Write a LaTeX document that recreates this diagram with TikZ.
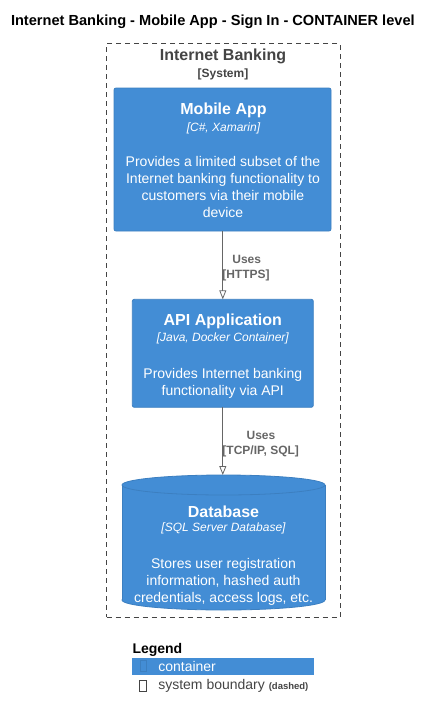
\documentclass[tikz,border=0pt]{standalone}
\usepackage{fontspec}
\setmainfont{Liberation Sans}
\usetikzlibrary{arrows.meta}

\definecolor{contbg}{HTML}{438DD5}
\definecolor{contbd}{HTML}{3C7FC0}
\definecolor{relgray}{HTML}{666666}
\definecolor{bndgray}{HTML}{444444}
\newcommand{\fsz}[2]{\fontsize{#1}{#2}\selectfont}

\begin{document}
\begin{tikzpicture}[x=1pt,y=-1pt]
\tikzset{ >={Triangle[open,length=9pt,width=7pt]}, inner sep=0pt, outer sep=0pt,
  contbox/.style={fill=contbg, draw=contbd, line width=0.8pt, rounded corners=2pt},
  cttl/.style={anchor=base, text=white, font=\bfseries\fsz{16}{19}},
  ctech/.style={anchor=base, text=white, font=\itshape\fsz{12}{14}},
  cdesc/.style={anchor=base, text=white, font=\fsz{14}{17}},
  rel/.style={->, draw=relgray, line width=0.8pt},
  rellbl/.style={anchor=base, text=relgray, font=\bfseries\fsz{12}{14}},
}

\useasboundingbox (0,0) rectangle (430,718);

%\draw [lightgray, dashed](0,0) grid[step=50] (430,718);

% Title
\node [anchor=base west, font=\bfseries\fsz{14.6}{17}] (Title) at (11,25) {Internet Banking - Mobile App - Sign In - CONTAINER level};

%%% Blocos

% System boundary
\node [draw=bndgray, line width=0.8pt, dash pattern=on 5pt off 4pt, minimum width=233.5pt, minimum height=573.5pt] (Bnd) at (223.25,330.25) { };
\node [anchor=base, text=bndgray, font=\bfseries\fsz{16}{19}] (BndT) at (223,60) {Internet Banking};
\node [anchor=base, text=bndgray, font=\bfseries\fsz{12}{14}] (BndS) at (223,77) {[System]};

% Mobile App
\node [contbox, minimum width=217pt, minimum height=143pt] (MobApp) at (222.5,159.5) { };
\node [cttl]  (MobAppT) at (223.5,114) {Mobile App};
\node [ctech] (MobAppK) at (223.5,131) {[C\#, Xamarin]};
\node [cdesc] (MobAppD1) at (223,166) {Provides a limited subset of the};
\node [cdesc] (MobAppD2) at (223,183) {Internet banking functionality to};
\node [cdesc] (MobAppD3) at (223,200) {customers via their mobile};
\node [cdesc] (MobAppD4) at (223,217) {device};

% API Application
\node [contbox, minimum width=181pt, minimum height=108pt] (ApiApp) at (222.8,353.3) { };
\node [cttl]  (ApiAppT) at (222.8,325) {API Application};
\node [ctech] (ApiAppK) at (222.8,341) {[Java, Docker Container]};
\node [cdesc] (ApiAppD1) at (222.8,378) {Provides Internet banking};
\node [cdesc] (ApiAppD2) at (222.8,395) {functionality via API};

% Database
\node [minimum width=203pt, minimum height=135pt] (DB) at (223.5,542.5) { };
\filldraw [fill=contbg, draw=contbd, line width=0.8pt] (223.5,600) ellipse (101.5 and 10);
\fill [contbg] (122,485) rectangle (325,600);
\draw [contbd, line width=0.8pt] (122,485) -- (122,600) (325,485) -- (325,600);
\filldraw [fill=contbg, draw=contbd, line width=0.8pt] (223.5,485) ellipse (101.5 and 10);
\node [cttl]  (DBT) at (223.5,517) {Database};
\node [ctech] (DBK) at (223.5,531) {[SQL Server Database]};
\node [cdesc] (DBD1) at (223.5,568) {Stores user registration};
\node [cdesc] (DBD2) at (223.5,585) {information, hashed auth};
\node [cdesc] (DBD3) at (223.5,602) {credentials, access logs, etc.};

%%% Linhas

% Mobile App -> API
\draw [rel] (MobApp.south -| ApiApp.north) -- (ApiApp.north);
\node [rellbl] (Uses1) at (246.7,263) {Uses};
\node [rellbl] (Uses1t) at (246,278) {[HTTPS]};

% API -> Database
\draw [rel] (ApiApp.south) -- (ApiApp.south |- DB.north);
\node [rellbl] (Uses2) at (261,439) {Uses};
\node [rellbl] (Uses2t) at (260.7,454) {[TCP/IP, SQL]};

%%% Legenda
\node [anchor=base west, font=\bfseries\fsz{14}{17}] (LegT) at (132.5,653) {Legend};
\node [fill=contbg, anchor=north west, minimum width=181.5pt, minimum height=17pt] (LegC) at (132,657.5) { };
\node [draw=contbd, line width=0.6pt, minimum width=6.5pt, minimum height=11pt] (LegCbox) at (143.3,666.2) { };
\node [anchor=base west, text=white, font=\fsz{14}{17}] (LegCt) at (158.3,671) {container};
\node [draw=bndgray, line width=0.6pt, minimum width=7pt, minimum height=11pt] (LegBbox) at (143,686.2) { };
\node [anchor=base west, text=bndgray, font=\fsz{14}{17}] (LegBt) at (158.3,689) {system boundary {\bfseries\fsz{9.5}{11}(dashed)}};

\end{tikzpicture}
\end{document}
